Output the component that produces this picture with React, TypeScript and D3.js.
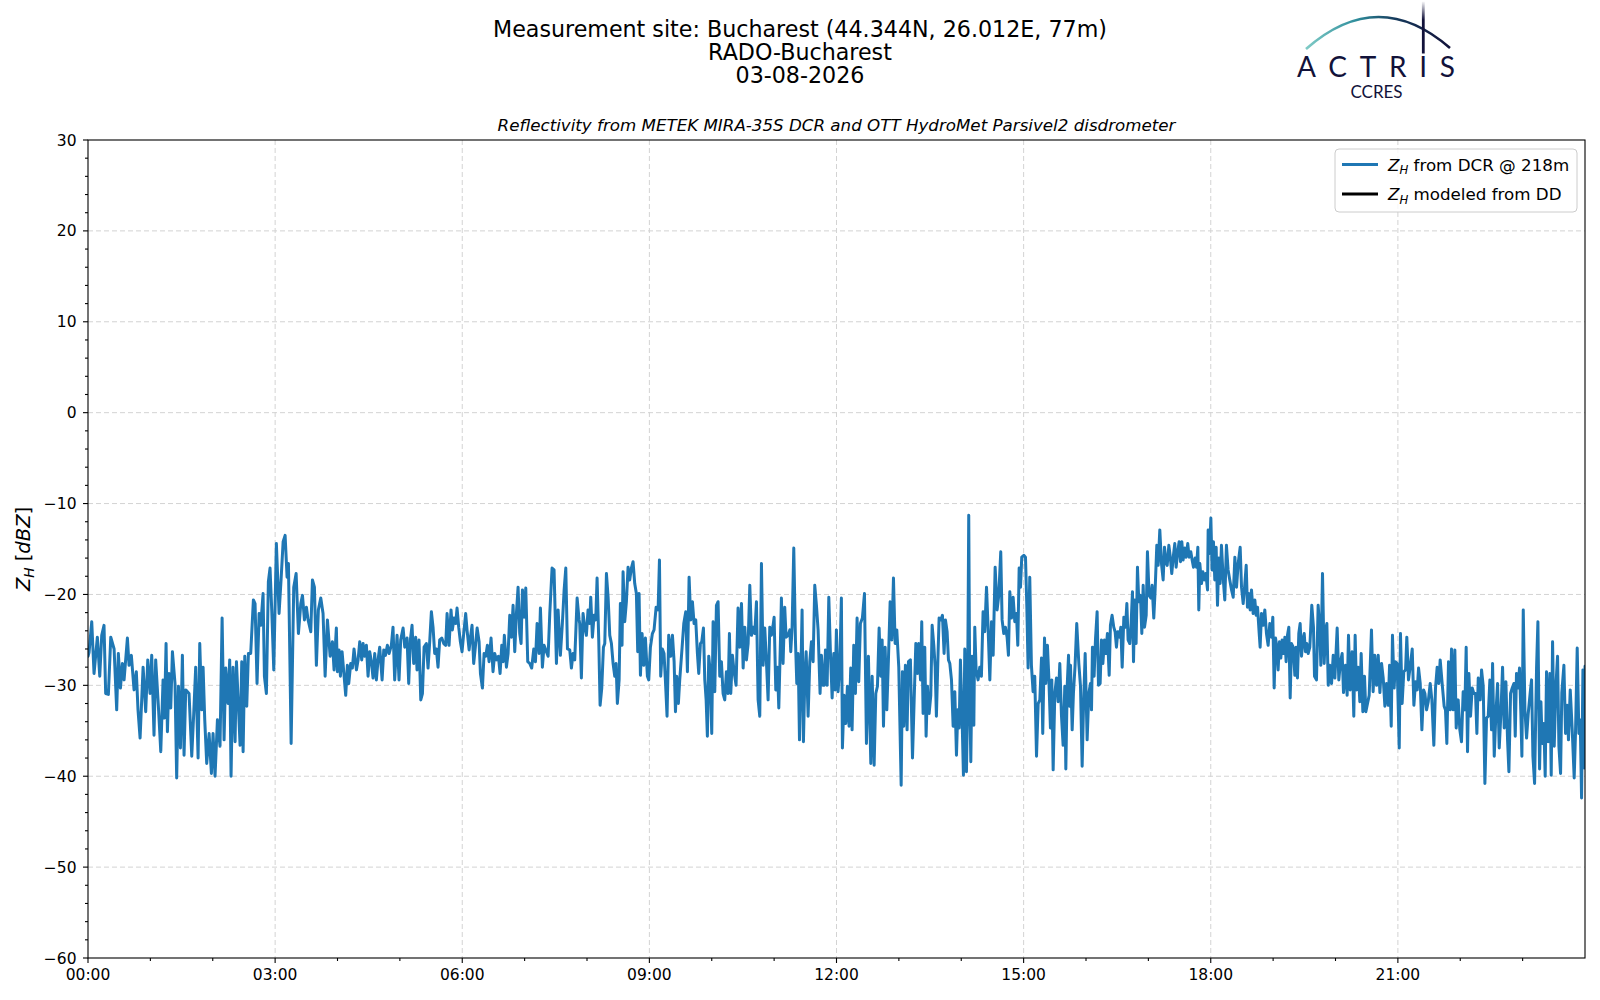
import * as d3 from "d3";

// [minutes after 00:00 UTC, Z_H in dBZ]
type Pt = [number, number];

const dcrNight: Pt[] = [
  [0, -26.8], [1, -26.4], [3.6, -23], [5.8, -28.7], [9, -24.7], [11.3, -29], [13.2, -24.5], [15.4, -23.4],
  [17, -30.9], [19.6, -31], [21.9, -24.7], [25.1, -26], [27.6, -32.7], [29.2, -26.5], [31.2, -30.3], [33.1, -27.6],
  [34.7, -29.4], [37.9, -24.8], [39.5, -27.8], [41.7, -26.7], [44.3, -30.5], [46.5, -28.5], [48.1, -32.7], [50.1, -35.8],
  [53, -28], [55.5, -32.9], [57.5, -27.2], [59.7, -30.9], [61.3, -26.7], [63.5, -35.5], [65.1, -27.2], [67.7, -32.3],
  [70, -37.3], [72.2, -29.4], [73.5, -33.6], [75.1, -25.4], [76.4, -35.1], [78, -28.7], [79.6, -32.5], [81.2, -26.3],
  [83.7, -29.8], [85.3, -40.2], [87, -30.1], [88.9, -36.9], [90.8, -26.7], [92.4, -37.7], [94, -30.5], [97.2, -30.9],
  [99.8, -37.8], [101.7, -33.1], [103.6, -28], [105.9, -38], [107.5, -25.4], [109.4, -32.7], [110.7, -28], [112.3, -33.8],
  [114.2, -38.6], [116.5, -35.3], [118.7, -39.7], [120.3, -35.3], [122.2, -40], [124.5, -33.8], [127, -36.7], [129, -22.6],
  [130.9, -36], [132.5, -28.1], [134.7, -32], [136.3, -27.2], [137.6, -40], [139.5, -28], [141.5, -36.2], [142.8, -27.4],
  [144.7, -32.3], [146.3, -36.6], [147.9, -27.4], [149.2, -37.3], [150.8, -26.8], [152.7, -32.3], [154.3, -26.5], [156.5, -26.5],
  [159.1, -20.6], [160.7, -21], [162.6, -29.8], [164.6, -22.1], [166.2, -23.4], [168.4, -19.9], [169.7, -29], [171.6, -30.9],
  [173.5, -18.6], [175.1, -17.1], [176.8, -21.9], [178.7, -28.3], [181.2, -14.4], [183.8, -22.1], [185.7, -18.4], [187.7, -14.2],
  [189.6, -13.5], [191.5, -18.1], [192.8, -16.6], [195.4, -36.4], [197.9, -19.2], [200.2, -17.7], [202.4, -24.3], [204.7, -21],
  [206.3, -20.1], [208.2, -22.8], [210.1, -21.4], [211.7, -22.8], [214.3, -24.1], [215.9, -18.4], [217.8, -19.2], [219.7, -27.8],
  [221.6, -21.7], [223.9, -20.4], [226.1, -22.1], [228.1, -29], [230.3, -22.8], [232.9, -26.8], [235.1, -25.2], [236.7, -28.3],
];

const dcrEarly: Pt[] = [
  [238.9, -23.7], [239.9, -28.5], [241.5, -26.1], [242.8, -29], [244.4, -26.3], [246, -28.5], [247.9, -31.1], [249.5, -27.8],
  [250.8, -29.8], [252.7, -27.6], [254.3, -28.1], [255.9, -26], [258.2, -28.3], [259.8, -27.2], [261.4, -25.2], [263.3, -27.2],
  [264.6, -25.4], [266.2, -26.8], [267.8, -25.6], [269.4, -29], [271, -26.3], [272.6, -27.4], [274.2, -29.2], [275.8, -26.5],
  [277.4, -29.4], [279, -27.2], [280.6, -25.8], [282.9, -29.4], [284.5, -26.1], [286.1, -26.7], [288, -25.6], [289.6, -26.5],
  [291.8, -25.6], [293.4, -23.6], [295, -29.4], [297.3, -24.5], [299.2, -29.4], [300.8, -25], [303.1, -23.7], [304.7, -25.8],
  [306.9, -24.8], [308.5, -29.8], [310.1, -25], [311.7, -23.4], [313.3, -27.6], [315.2, -24.7], [316.5, -28.3], [318.4, -25],
  [320.1, -31.6], [321.7, -30.9], [323.3, -25.8], [325.5, -25.4], [327.1, -28.1], [328.7, -25.2], [330.3, -21.9], [331.9, -23.6],
  [333.5, -26.5], [335.1, -26], [336.7, -28], [338.3, -25], [340.3, -24.8], [342.2, -25.4], [344.1, -25.6], [345.4, -22.1],
  [347.3, -25.6], [349.2, -21.7], [350.5, -23.9], [352.1, -22.6], [353.7, -23.2], [355, -21.5], [356.6, -23.6], [358.2, -25.2],
  [359.8, -26.3], [361.4, -24.3], [363.3, -22.1], [364.6, -23.9], [366.6, -26.1], [367.8, -24.8], [369.4, -23.4], [371, -27.6],
  [372.6, -25.8], [374.3, -23.7], [376.2, -25.2], [377.5, -28.7], [379.4, -30.3], [381, -26.5], [382.6, -26.8], [384.2, -25.6],
  [385.8, -27.4], [387.7, -24.8], [389.6, -28.5], [391.2, -26.5], [392.9, -27.2], [394.8, -26.8], [396.4, -28.7], [398, -25.6],
  [399.3, -27.4], [400.5, -24.5], [402.5, -28], [404.1, -26.5], [405.7, -22.3], [407.3, -24.7], [408.9, -21.2], [410.5, -26.3],
  [412.1, -22.1], [413.7, -19.2], [415.3, -24.3], [416.6, -25.4], [417.9, -19.5], [419.5, -22.5], [421.1, -19.3], [423, -27.4],
  [424.9, -27.6], [426.8, -28.1], [428.8, -26], [430.4, -27.4], [432, -23.2], [433.9, -26.5], [435.2, -21.5], [437.1, -28],
  [438.7, -25.6], [440.3, -26.1], [442.6, -26.8], [444.2, -22.1], [446.4, -17.1], [448.3, -17.3], [450.6, -27.6], [452.2, -21.7],
  [454.4, -26.7], [456.3, -23.2], [458, -19.5], [459.6, -17.1], [461.2, -26], [463.4, -26.1], [465, -28.1], [466.6, -26.5],
  [468.2, -27.2], [470.5, -20.4], [472.4, -22.8],
];

const dcrMorning: Pt[] = [
  [473, -23.2], [474.6, -29.2], [476.2, -22.1], [477.8, -23.6], [479.4, -24.5], [481, -21.7], [482.6, -23.2], [483.6, -20.3],
  [485.2, -24.7], [486.8, -22.3], [488.4, -22.8], [489.7, -18.2], [491.3, -25], [492.6, -32.2], [494.2, -30.3], [495.8, -25.8],
  [497.1, -25.4], [498.7, -17.7], [500.3, -20.3], [501.9, -24.5], [503.5, -25.4], [505.1, -27.6], [506.7, -29], [508, -27.6],
  [509.2, -32], [510.9, -29.4], [512.1, -21], [513.7, -25.6], [514.7, -17.5], [516.3, -23], [517.9, -20.8], [519.5, -17],
  [521.1, -18.4], [522.7, -17.1], [524.3, -16.4], [525.9, -18.8], [527.5, -19.9], [528.8, -26.3], [530.1, -19.9], [531.4, -28.9],
  [533, -24.3], [534.6, -27.8], [536.2, -24.8], [538.1, -29], [539.4, -29.4], [541, -25.8], [542.9, -24.3], [544.5, -23.9],
  [546.5, -21.4], [548.4, -21.7], [549.7, -16.2], [550.9, -29], [552.5, -26], [554.1, -26.5], [555.4, -29.4], [557, -33.4],
  [558.6, -24.5], [560.6, -26.8], [562.2, -24.5], [563.8, -27.4], [565.1, -32.9], [566.3, -29], [567.9, -32], [569.2, -29.4],
  [571.5, -25.8], [573.1, -23.2], [575, -21.9], [576.6, -28.5], [578.2, -18.1], [579.8, -22.8], [581.4, -20.8], [583, -23.2],
  [584.6, -22.8], [586.2, -26.5], [587.5, -28.7], [589.1, -25.4], [590.4, -25.2], [592, -23.7], [593.3, -29.4], [594.6, -31.6],
  [595.8, -35.6], [597.1, -26.8], [598.4, -28.3], [600, -35.3], [601.3, -23], [602.9, -30.7], [604.5, -21.2], [606.1, -20.8],
  [607.7, -29], [609.3, -27.4], [610.9, -30.9], [612.5, -31.6], [614.1, -28.5], [615.7, -30.9], [617, -24.3], [618.3, -30.9],
  [619.9, -26.7], [621.5, -28.5], [623.4, -30], [625.3, -21.5], [626.9, -25.8], [628.6, -21], [630.2, -28.1], [631.8, -23.6],
  [633.4, -27.2], [635, -25.4], [636.6, -19], [638.2, -24.5], [639.8, -23.6], [641.4, -24.3], [643, -20.8], [644.6, -31.6],
  [646.2, -33.4], [647.8, -16.6], [649.4, -27.8], [651, -23.7], [652.6, -27.4], [654.2, -31.6], [655.8, -23.6], [657.4, -24.5],
  [659, -23.4], [660, -22.5], [661.6, -30.5], [663.2, -28], [664.5, -32.5], [666.1, -25], [667, -20.4], [668.6, -27.6],
  [670.2, -21.4], [671.5, -24.7], [673.4, -24.5], [675.1, -23.9], [676, -26.3], [677.3, -23.6], [678.9, -14.9], [680.5, -25],
  [681.8, -29.8], [683.1, -26.5], [684.4, -36], [685.6, -29.4], [686.9, -21.7], [688.2, -36.2], [689.5, -29.4], [690.8, -26.3],
  [692.7, -33.4], [694.3, -27.4], [695.9, -25.2], [697.5, -27.4], [699.1, -19], [700.7, -21.2], [702.3, -23.9], [704.2, -30.9],
  [705.5, -26.7], [707.1, -30],
];

const dcrMidday: Pt[] = [
  [708.1, -30], [709.4, -26.1], [711, -30], [712.6, -20.3], [714.2, -26.5], [715.8, -31.4], [717.4, -26.5], [718.7, -30.5],
  [719.9, -23.9], [721.5, -30.7], [723.1, -28.1], [724.7, -20.4], [725.7, -36.9], [727.3, -31.1], [728.9, -34.2], [730.5, -30.1],
  [732.1, -34.5], [733.7, -28.1], [735, -34.9], [736.6, -25.6], [738.2, -30.9], [739.8, -22.6], [741.4, -29.6], [743, -23.2],
  [744.9, -22.6], [746.9, -19.9], [748.8, -36.4], [750.7, -26.8], [753, -38.6], [754.3, -29], [756.2, -38.8], [757.8, -30.9],
  [759.4, -30.1], [761, -23.7], [762.6, -29], [763.9, -25], [765.2, -34.5], [766.8, -25.8], [768.4, -32.7], [770, -27],
  [771.6, -20.8], [773.2, -25], [774.8, -18.2], [776.4, -25.4], [778, -23.9], [779.9, -28], [782.2, -41], [783.4, -28.5],
  [784.7, -34.5], [786.3, -27.8], [787.9, -34.9], [789.2, -27.4], [791.1, -27.2], [793.1, -38], [794.7, -31.6], [796.3, -25.4],
  [797.9, -28.7], [799.1, -25.4], [800.8, -29.4], [802, -23], [803.3, -33.1], [804.9, -25.8], [806.2, -35.6], [807.5, -30.1],
  [809.1, -33.1], [810.7, -31.1], [812, -23.4], [813.6, -25.6], [814.9, -28], [816.1, -33.4], [817.7, -26.5], [818.7, -22.6],
  [820.3, -22.8], [821.9, -22.3], [823.5, -26.5], [824.8, -22.8], [826.4, -24.1], [827.7, -27.2], [829, -27.6], [830.6, -29.4],
  [832.2, -34.5], [833.8, -30.7], [835.4, -37.7], [836.7, -32.7], [838, -34.7], [839.2, -27.2], [840.8, -33.6], [842.1, -39.9],
  [843.4, -26], [845, -39.5], [846, -32.7], [847.2, -11.3], [848.2, -31.2], [849.2, -38.4], [850.5, -26.8], [852.1, -34.4],
  [853, -23.6], [854.3, -28.3], [856.2, -29.4], [857.8, -28], [859.4, -29], [861, -21.9], [862.6, -24.1], [864.3, -19.2],
  [865.9, -23.9], [867.5, -29.4], [869.1, -23], [870.7, -26.7], [872.6, -17], [874.5, -21.7], [876.1, -20.1], [878, -15.3],
  [879.3, -22.8], [880.9, -24.3], [882.5, -23.6], [884.1, -24.7], [885.4, -26.7], [886.7, -19.7], [888.3, -22.6], [889.9, -20.3],
  [891.5, -23], [893.1, -22.1], [894.4, -25.6], [895.7, -17.1], [897, -19.2], [898.2, -15.9], [900.2, -15.7], [901.8, -15.9],
  [903.1, -21.4], [904.3, -28.1], [905.9, -18.1], [907.5, -27.8], [909.1, -30.7], [910.7, -29], [912.4, -37.8], [914, -32],
  [915.6, -31.6], [917.2, -27], [918.4, -35.3], [920.1, -24.8], [921.3, -29.8], [922.9, -25.6], [924.2, -29], [925.8, -34.7],
  [927.1, -29.4], [928.4, -39.3], [930, -30.9], [931.6, -29.2], [933.2, -31.8], [934.8, -27.6], [936.4, -33.3], [938, -36.6],
  [939.6, -30.1], [940.6, -39.2], [941.9, -30.1], [943.2, -26.7], [944.1, -32.3],
];

const dcrAfternoon: Pt[] = [
  [945.1, -27.8], [946.7, -34.9], [947.9, -30.9], [949.5, -27.8], [951.1, -23.2], [953.1, -27.6], [954.7, -30.1], [956.3, -38.9],
  [957.6, -32.3], [959.2, -26.5], [961.1, -36], [962.7, -30.9], [964.3, -29.8], [965.3, -32.7], [966.2, -25.8], [967.8, -29],
  [969.1, -25], [970.7, -21.9], [972, -30], [973.6, -29.8], [974.9, -25], [976.2, -27.6], [977.8, -25], [979, -26.5],
  [980.6, -24.3], [982.3, -28.9], [983.5, -23.4], [985.1, -22.3], [986.7, -23.6], [988, -24.1], [989.3, -25.8], [990.6, -24.1],
  [992.2, -24.7], [993.5, -23.6], [994.8, -28], [996.4, -22.5], [998, -23.6], [999.3, -21], [1000.5, -25], [1002.1, -25.4],
  [1003.4, -23.2], [1004.7, -19.7], [1005.7, -27.4], [1006.9, -20.6], [1008.2, -25.4], [1009.5, -17], [1010.8, -20.8], [1012.4, -20.1],
  [1013.7, -24.3], [1015, -19], [1016.3, -23.6], [1017.9, -22.3], [1019.1, -15.3], [1020.7, -20.1], [1022.3, -20.4], [1023.6, -19],
  [1025.2, -22.6], [1026.5, -19.5], [1028.1, -14.6], [1029.4, -16.8], [1031, -12.9], [1032.6, -16.6], [1034.2, -18.4], [1035.5, -14.8],
  [1036.8, -16.4], [1038.1, -16.8], [1039.7, -14.6], [1040.9, -15.7], [1042.5, -17.7], [1044.1, -15.7], [1045.4, -14.4], [1046.7, -17],
  [1048, -15.5], [1049.6, -14.2], [1050.9, -16.4], [1052.2, -14.2], [1053.4, -16.2], [1055.1, -14.9], [1056.3, -15.9], [1057.9, -14.4],
  [1059.2, -15.9], [1060.8, -15.3], [1062.1, -16.2], [1063.4, -17], [1065, -16], [1066.3, -17], [1067.6, -14.8], [1068.5, -21.7],
  [1069.5, -16.6], [1071.1, -18.8], [1072.4, -17.5], [1074, -18.4], [1075.3, -17.7], [1076.9, -19.5], [1077.5, -12.9], [1078.8, -15.5],
  [1080.1, -11.6], [1081.3, -17.3], [1082.6, -14.2], [1083.9, -18.4], [1085.2, -14.8], [1086.5, -21.2], [1087.8, -16], [1089, -18.8],
  [1090.3, -14.6], [1091.9, -18.1], [1093.5, -20.6], [1095.1, -14.6], [1096.7, -17.3], [1098.3, -18.4], [1100, -19.5], [1101.6, -20.3],
  [1103.2, -15.9], [1104.8, -19.2], [1106.4, -16.6], [1108.3, -14.8], [1109.6, -19.2], [1111.2, -21], [1112.5, -19.3], [1114.1, -16.8],
  [1115.3, -21.4], [1116.6, -19.9], [1117.9, -21.7], [1119.2, -19.5], [1120.8, -22.1], [1122.4, -20.6], [1123.7, -22.3], [1125, -21.4],
  [1126.6, -24.3], [1127.5, -25.8], [1128.8, -22.1], [1130.4, -23.4], [1132, -21.7], [1133.6, -24.3], [1135.2, -25.6], [1136.8, -23.2],
  [1138.4, -24.7], [1139.7, -22.5], [1141, -30.3], [1142.3, -24.8], [1143.6, -25.8], [1144.8, -28.3], [1146.1, -25.2], [1147.4, -27],
  [1148.7, -25], [1150, -26.5], [1151.3, -24.7], [1152.5, -27.4], [1153.8, -24.5], [1155.1, -23.6], [1156.4, -31.4], [1157.7, -25.4],
  [1159.3, -25.8], [1160.9, -28.9], [1162.2, -25.8], [1163.4, -29.2], [1164.7, -24.3], [1166, -23.2], [1167.3, -26.8], [1168.6, -25],
  [1169.9, -24.3], [1171.1, -26.3], [1172.4, -25.4], [1173.7, -26.5], [1175.3, -25.8], [1177.2, -21.2], [1178.8, -23.6], [1179.8, -29],
];

const dcrEvening: Pt[] = [
  [1181.7, -29.4], [1183.3, -21.2], [1184.9, -23.9], [1185.9, -27.8], [1187.5, -17.7], [1189.1, -27.6], [1190.4, -23.9], [1191.7, -23.2],
  [1193, -30], [1194.6, -27.8], [1196.2, -29.8], [1197.8, -26.7], [1199.4, -29.2], [1201.6, -23.7], [1203.2, -29.4], [1204.8, -27.4],
  [1206.4, -26.5], [1207.7, -30.8], [1209.6, -27.8], [1211.2, -31.1], [1212.5, -24.5], [1214.1, -30.5], [1216, -26.3], [1217.6, -33.4],
  [1218.9, -24.5], [1220.2, -30.5], [1221.8, -28], [1223.4, -31.8], [1224.7, -26.5], [1226.3, -32.9], [1227.9, -29], [1229.2, -32.9],
  [1230.8, -32], [1232.4, -31.1], [1234.6, -23.9], [1236.2, -30.7], [1237.8, -26.7], [1239.5, -30], [1241.1, -26.7], [1242.7, -30.8],
  [1244.3, -27.6], [1245.9, -29.2], [1247.5, -32.3], [1249.1, -29.8], [1250.7, -32.2], [1252, -27.8], [1253.6, -34.5], [1254.8, -24.5],
  [1256.4, -30.3], [1257.7, -27.4], [1259.3, -27.6], [1261.3, -36.9], [1262.5, -24.3], [1264.1, -32], [1265.7, -28.5], [1267.4, -28.3],
  [1268.6, -24.7], [1270.2, -29.4], [1271.8, -28], [1273.8, -26], [1275.4, -32.2], [1277, -29.6], [1278.6, -30.5], [1279.9, -28.1],
  [1281.5, -29.8], [1283.1, -34.9], [1284.7, -30.5], [1286, -30.9], [1287.6, -32.7], [1289.2, -31.8], [1291.1, -29.8], [1292.7, -31.6],
  [1294.6, -36.6], [1296.2, -30.3], [1297.8, -28], [1299.4, -29.8], [1300.7, -27.2], [1302.6, -29.8], [1304.5, -32.3], [1305.8, -32.7],
  [1307.1, -36.4], [1308.7, -27.4], [1310.3, -32.7], [1311.6, -26], [1313.2, -32.7], [1314.8, -26.1], [1316.1, -34.7], [1318, -31.6],
  [1319.6, -34.9], [1321.2, -36.2], [1322.8, -30.7], [1324.4, -32.7], [1325.7, -25.8], [1327, -37.3], [1328.3, -28.7], [1329.9, -33.4],
  [1331.5, -30.3], [1333.1, -30.9], [1334.7, -30.9], [1336, -35.3], [1337.3, -29.2], [1339.2, -31.6], [1340.5, -28.3], [1342.1, -30.1],
  [1343.7, -40.8], [1345.3, -33.6], [1346.9, -33.4], [1348.5, -29.4], [1350.1, -34.9], [1351.1, -27.6], [1352.7, -37.8], [1354.3, -33.1],
  [1355.9, -29.8], [1357.5, -36.9], [1359.1, -33.1], [1360.7, -28], [1362.3, -34.7], [1363.9, -29.6], [1365.5, -36], [1366.8, -39.5],
  [1368.4, -30.9], [1370, -30.3], [1371.6, -29.8], [1372.9, -35.6], [1374.1, -28.7], [1375.7, -30.3], [1377, -28.1], [1378.3, -33.1],
  [1379.3, -37.8], [1380.6, -21.7], [1382.2, -32.7], [1383.8, -35.8], [1385.4, -33.1], [1387.3, -30.8], [1388.6, -29.4], [1389.9, -37.8],
  [1391.5, -40.8], [1393.4, -28.1], [1394.7, -23], [1396.3, -39.2], [1397.6, -31.8], [1398.8, -36.4], [1400.4, -34.2], [1401.7, -40],
  [1403, -28.5], [1404.6, -36.2], [1406.2, -28.7], [1407.5, -39.9], [1408.8, -25.2], [1410.4, -36.7], [1412, -30.1], [1413.6, -26.8],
  [1414.9, -36.7], [1416.5, -39.7], [1417.7, -30.8], [1419.7, -27.8], [1421.3, -35.3], [1422.9, -32.2], [1424.1, -36], [1425.8, -30.5],
  [1427.7, -34.9], [1429.6, -40.2], [1430.9, -35.1], [1432.5, -25.9], [1434.1, -35.3], [1435.4, -33.8], [1436.7, -42.4], [1438, -28.3],
  [1439.2, -39.1], [1440, -27.9],
];

// nothing from the disdrometer model on this day
const ddModel: Pt[] = [];

const dcr: Pt[] = [...dcrNight, ...dcrEarly, ...dcrMorning, ...dcrMidday, ...dcrAfternoon, ...dcrEvening];

const yMajor = [-60, -50, -40, -30, -20, -10, 0, 10, 20, 30];
const hourMajor = [0, 3, 6, 9, 12, 15, 18, 21];

const titleLines = ["Measurement site: Bucharest (44.344N, 26.012E, 77m)", "RADO-Bucharest", "03-08-2026"];
const subTitle = "Reflectivity from METEK MIRA-35S DCR and OTT HydroMet Parsivel2 disdrometer";

const W = 1600;
const H = 1000;
const margin = { top: 140, right: 15, bottom: 42, left: 88 };
const FONT = "DejaVu Sans, sans-serif";
const BLUE = "#1f77b4";
const NAVY = "#12123a";

export default function App() {
  const x = d3.scaleLinear().domain([0, 1440]).range([margin.left, W - margin.right]);
  const y = d3.scaleLinear().domain([-60, 30]).range([H - margin.bottom, margin.top]);

  const line = d3.line<Pt>().x(d => x(d[0])).y(d => y(d[1]));

  const yMinor = d3.range(-60, 31, 2).filter(v => v % 10 !== 0);
  const hourMinor = d3.range(1, 24).filter(h => h % 3 !== 0);
  const fmtHour = (h: number) => `${String(h).padStart(2, "0")}:00`;

  const x0 = margin.left, x1 = W - margin.right, y0 = margin.top, y1 = H - margin.bottom;
  const cx = (x0 + x1) / 2, cy = (y0 + y1) / 2;

  return (
    <div style={{ position: "absolute", left: 0, top: 0 }}>
      <svg width={W} height={H} style={{ display: "block", background: "#fff" }} fontFamily={FONT}>
        <defs>
          <linearGradient id="arcGrad" gradientUnits="userSpaceOnUse" x1={1306} y1={0} x2={1450} y2={0}>
            <stop offset="0" stopColor="#7fcbc6" />
            <stop offset="0.35" stopColor="#2f8e9c" />
            <stop offset="0.62" stopColor="#163a5c" />
            <stop offset="1" stopColor={NAVY} />
          </linearGradient>
          <linearGradient id="poleGrad" gradientUnits="userSpaceOnUse" x1={0} y1={1} x2={0} y2={54}>
            <stop offset="0" stopColor={NAVY} stopOpacity="0" />
            <stop offset="0.35" stopColor={NAVY} stopOpacity="1" />
            <stop offset="1" stopColor={NAVY} />
          </linearGradient>
          <clipPath id="plotClip">
            <rect x={x0} y={y0} width={x1 - x0} height={y1 - y0} />
          </clipPath>
        </defs>

        {/* header */}
        {titleLines.map((t, i) => (
          <text key={t} x={800} y={36.5 + i * 23} textAnchor="middle" fontSize={22.2} fill="#000">{t}</text>
        ))}
        <text x={cx} y={131} textAnchor="middle" fontSize={16.7} fontStyle="italic" fill="#000">{subTitle}</text>

        {/* ACTRIS logo */}
        <path d="M1306,49 Q1378,-14.5 1450,48" fill="none" stroke="url(#arcGrad)" strokeWidth={2.6} />
        <line x1={1423.3} x2={1423.3} y1={1.5} y2={53.5} stroke="url(#poleGrad)" strokeWidth={2.8} />
        <text x={1297} y={77.3} fontSize={28} fontFamily="Lato, DejaVu Sans, sans-serif" fill={NAVY}
          textLength={158} lengthAdjust="spacing">ACTRIS</text>
        <text x={1376.5} y={98.3} fontSize={17} textAnchor="middle" fontFamily="Lato, DejaVu Sans, sans-serif" fill={NAVY}>CCRES</text>

        {/* grid */}
        <g stroke="#d3d3d3" strokeWidth={1} strokeDasharray="5,3">
          {yMajor.filter(v => v > -60 && v < 30).map(v => (
            <line key={`gy${v}`} x1={x0} x2={x1} y1={y(v)} y2={y(v)} />
          ))}
          {hourMajor.filter(h => h > 0).map(h => (
            <line key={`gx${h}`} x1={x(h * 60)} x2={x(h * 60)} y1={y0} y2={y1} />
          ))}
        </g>

        {/* series */}
        <g clipPath="url(#plotClip)" fill="none" strokeLinejoin="round" strokeLinecap="round">
          <path d={line(dcr) ?? ""} stroke={BLUE} strokeWidth={3} />
          {ddModel.length > 0 && <path d={line(ddModel) ?? ""} stroke="#000" strokeWidth={3} />}
        </g>

        {/* frame */}
        <rect x={x0} y={y0} width={x1 - x0} height={y1 - y0} fill="none" stroke="#000" strokeWidth={1.1} />

        {/* ticks */}
        <g stroke="#000" strokeWidth={1.1}>
          {yMajor.map(v => <line key={`ty${v}`} x1={x0 - 5} x2={x0} y1={y(v)} y2={y(v)} />)}
          {yMinor.map(v => <line key={`my${v}`} x1={x0 - 3} x2={x0} y1={y(v)} y2={y(v)} />)}
          {hourMajor.map(h => <line key={`tx${h}`} x1={x(h * 60)} x2={x(h * 60)} y1={y1} y2={y1 + 5} />)}
          {hourMinor.map(h => <line key={`mx${h}`} x1={x(h * 60)} x2={x(h * 60)} y1={y1} y2={y1 + 3} />)}
        </g>
        <g fontSize={15.5} fill="#000">
          {yMajor.map(v => (
            <text key={`ly${v}`} x={x0 - 11.5} y={y(v)} dy="0.36em" textAnchor="end">
              {v < 0 ? `\u2212${-v}` : `${v}`}
            </text>
          ))}
          {hourMajor.map(h => (
            <text key={`lx${h}`} x={x(h * 60)} y={980} textAnchor="middle">{fmtHour(h)}</text>
          ))}
        </g>
        <text transform={`translate(29.5,${cy}) rotate(-90)`} textAnchor="middle" fontSize={19.5} fill="#000">
          <tspan fontStyle="italic">Z</tspan>
          <tspan fontStyle="italic" fontSize={13.7} dy={4.2}>H</tspan>
          <tspan dy={-4.2}> [</tspan>
          <tspan fontStyle="italic">dBZ</tspan>
          <tspan>]</tspan>
        </text>

        {/* legend */}
        <rect x={1335} y={149} width={242} height={63} rx={4} fill="#fff" fillOpacity={0.8} stroke="#cccccc" strokeWidth={1} />
        <line x1={1342} x2={1378} y1={164.5} y2={164.5} stroke={BLUE} strokeWidth={2.8} />
        <line x1={1342} x2={1378} y1={194} y2={194} stroke="#000" strokeWidth={2.8} />
        <g fontSize={16.7} fill="#000">
          <text x={1388} y={170.5}>
            <tspan fontStyle="italic">Z</tspan>
            <tspan fontStyle="italic" fontSize={11.7} dy={3.5}>H</tspan>
            <tspan dy={-3.5}> from DCR @ 218m</tspan>
          </text>
          <text x={1388} y={200}>
            <tspan fontStyle="italic">Z</tspan>
            <tspan fontStyle="italic" fontSize={11.7} dy={3.5}>H</tspan>
            <tspan dy={-3.5}> modeled from DD</tspan>
          </text>
        </g>
      </svg>
    </div>
  );
}
